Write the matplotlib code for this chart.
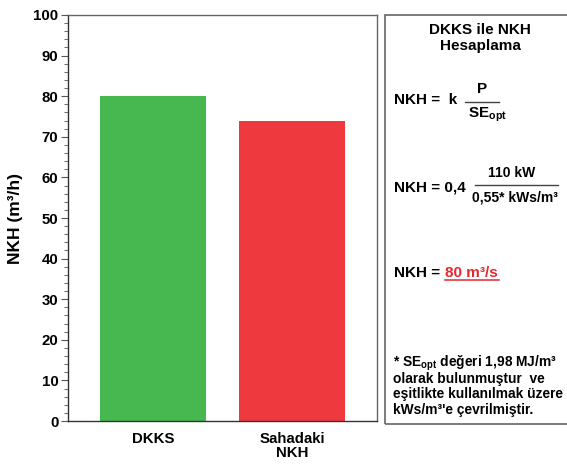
import matplotlib
matplotlib.use("Agg")
import matplotlib.pyplot as plt
from matplotlib.patches import Rectangle
from matplotlib.lines import Line2D
from matplotlib.ticker import MultipleLocator

plt.rcParams['font.family'] = ['Liberation Sans', 'DejaVu Sans']
plt.rcParams['font.weight'] = 'bold'
plt.rcParams['mathtext.fontset'] = 'custom'
plt.rcParams['mathtext.rm'] = 'Liberation Sans:bold'
plt.rcParams['mathtext.it'] = 'Liberation Sans:bold'
plt.rcParams['mathtext.bf'] = 'Liberation Sans:bold'

categories = ["DKKS", "Sahadaki\nNKH"]
values = [80, 74]
colors = ["#46b84f", "#ee3a3f"]

W, H = 567, 465
fig = plt.figure(figsize=(W / 100, H / 100), dpi=100)


def fx(px):
    return px / W


def fy(py):
    return 1 - py / H


ax = fig.add_axes([fx(68), fy(421), fx(377) - fx(68), fy(15) - fy(421)])
ax.bar(range(len(values)), values, width=0.76, color=colors)
ax.set_xlim(-0.61, 1.61)
ax.set_ylim(0, 100)
ax.yaxis.set_major_locator(MultipleLocator(10))
ax.yaxis.set_minor_locator(MultipleLocator(2))
ax.set_xticks(range(len(values)))
ax.set_xticklabels(categories, fontsize=10.8, fontweight='bold', linespacing=0.95)
ax.tick_params(axis='x', length=0, pad=8)
ax.tick_params(axis='y', which='major', length=5, color='#555555', labelsize=10.8, pad=2)
ax.tick_params(axis='y', which='minor', length=3, color='#555555')
for lbl in ax.get_yticklabels():
    lbl.set_fontweight('bold')
for s in ax.spines.values():
    s.set_color('#666666')
    s.set_linewidth(1.0)
ax.spines['left'].set_color('#333333')
ax.spines['bottom'].set_color('#333333')
ax.set_ylabel("NKH (m³/h)", fontsize=12.5, fontweight='bold', labelpad=7)

# calculation panel on the right
fig.patches.append(Rectangle((fx(385), fy(424)), fx(575) - fx(385), fy(15) - fy(424),
                             transform=fig.transFigure, fill=False,
                             edgecolor='#666666', linewidth=1.2))

fs = 11
fig.text(fx(480), fy(30), "DKKS ile NKH", ha='center', va='center', fontsize=fs)
fig.text(fx(480), fy(46), "Hesaplama", ha='center', va='center', fontsize=fs)

# NKH = k * P / SE_opt
fig.text(fx(394), fy(100), "NKH =  k", ha='left', va='center', fontsize=fs)
fig.text(fx(482), fy(89), "P", ha='center', va='center', fontsize=fs)
fig.lines.append(Line2D([fx(465), fx(499)], [fy(102), fy(102)], transform=fig.transFigure,
                        color='#444444', linewidth=1.0))
fig.text(fx(487), fy(115), r"$\mathrm{SE}_{\mathrm{opt}}$", ha='center', va='center', fontsize=fs)

# NKH = 0,4 * 110 kW / 0,55 kWs/m3
fig.text(fx(394), fy(187), "NKH = 0,4", ha='left', va='center', fontsize=fs)
fig.text(fx(512), fy(173), "110 kW", ha='center', va='center', fontsize=10)
fig.lines.append(Line2D([fx(475), fx(558)], [fy(185), fy(185)], transform=fig.transFigure,
                        color='#444444', linewidth=1.0))
fig.text(fx(515), fy(198), "0,55* kWs/m³", ha='center', va='center', fontsize=10)

# result
fig.text(fx(394), fy(273), "NKH = ", ha='left', va='center', fontsize=fs)
fig.text(fx(445), fy(273), "80 m³/s", ha='left', va='center', fontsize=fs,
         color='#e8262d')
fig.lines.append(Line2D([fx(445), fx(499)], [fy(279.5), fy(279.5)], transform=fig.transFigure,
                        color='#e8262d', linewidth=1.1))

note = ["* SE$_{\\mathrm{opt}}$ değeri 1,98 MJ/m³",
        "olarak bulunmuştur  ve",
        "eşitlikte kullanılmak üzere",
        "kWs/m³'e çevrilmiştir."]
for i, line in enumerate(note):
    fig.text(fx(393), fy(363 + 15.7 * i), line, ha='left', va='center', fontsize=9.9)

fig.savefig("out.png", dpi=100)
